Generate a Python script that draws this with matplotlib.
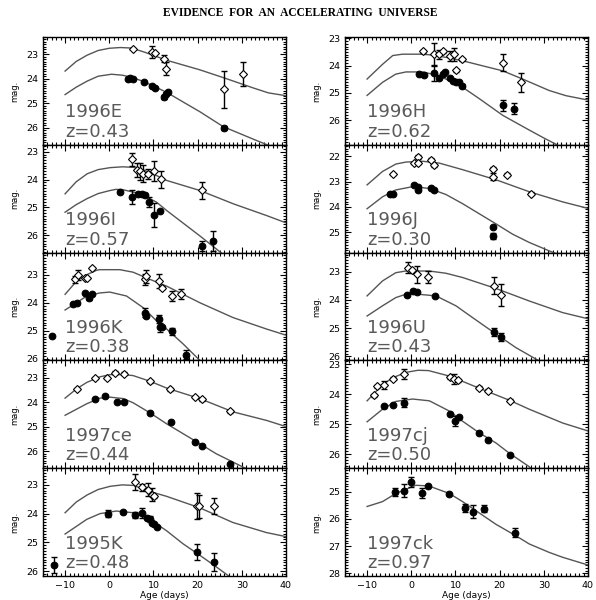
import matplotlib.pyplot as plt
from matplotlib.ticker import MultipleLocator

# light curves, rest age (days) vs magnitude
# points are (age, mag, err); curves are (age, mag) read along the template fits

sn1996E_open = [(5.4, 22.77, 0.04), (9.6, 22.90, 0.24), (10.3, 22.97, 0.0), (12.4, 23.18, 0.14),
                (12.8, 23.59, 0.26), (25.95, 24.44, 0.77), (30.3, 23.80, 0.50)]
sn1996E_fill = [(4.3, 24.00, 0), (4.8, 23.98, 0), (5.4, 24.00, 0), (7.85, 24.15, 0), (9.6, 24.32, 0),
                (10.3, 24.37, 0), (12.4, 24.76, 0.08), (12.8, 24.62, 0), (13.4, 24.55, 0), (25.95, 26.02, 0.08)]
sn1996E_up = [(-10, 23.69), (-7.5, 23.30), (-5, 23.04), (-2.5, 22.85), (0, 22.76), (2.5, 22.73), (5, 22.75),
              (8, 22.92), (13, 23.25), (20.5, 23.64), (26, 23.97), (32.6, 24.38), (36, 24.58), (39.8, 24.69)]
sn1996E_low = [(-10, 24.65), (-7.5, 24.35), (-5, 24.10), (-2.5, 23.90), (0.5, 23.82), (3, 23.86), (5.2, 23.95),
               (7.5, 24.10), (10, 24.30), (13, 24.56), (16.5, 24.93), (20.5, 25.35), (25.8, 25.96), (32.6, 26.47),
               (36, 26.72)]

sn1996H_open = [(2.6, 23.47, 0.05), (5.1, 23.59, 0.42), (6.2, 23.59, 0.18), (7.1, 23.47, 0.05), (8.8, 23.65, 0.18),
                (9.7, 23.59, 0.24), (10.1, 24.17, 0.05), (11.4, 23.77, 0.05), (20.7, 23.89, 0.30), (24.8, 24.61, 0.34)]
sn1996H_fill = [(1.8, 24.31, 0), (2.8, 24.35, 0), (5.1, 24.27, 0.30), (6.2, 24.46, 0), (7.1, 24.29, 0),
                (7.6, 24.25, 0), (8.8, 24.46, 0), (9.4, 24.55, 0), (10.1, 24.61, 0), (10.9, 24.61, 0),
                (11.4, 24.73, 0.05), (20.7, 25.45, 0.20), (23.3, 25.57, 0.20)]
sn1996H_up = [(-10, 24.49), (-6.5, 23.95), (-4.2, 23.63), (-2, 23.58), (2, 23.58), (4.1, 23.60), (8, 23.70),
              (11.6, 23.82), (16, 24.00), (20.7, 24.19), (25.2, 24.49), (31.2, 24.91), (35, 25.10), (40.3, 25.27)]
sn1996H_low = [(-10, 25.09), (-6.5, 24.61), (-3.5, 24.31), (-1.2, 24.23), (2.6, 24.23), (6.3, 24.37),
               (11.6, 24.79), (15.4, 25.21), (20.7, 25.82), (26.7, 26.36), (30, 26.65), (33, 26.90)]

sn1996I_open = [(5.06, 23.27, 0.24), (6.2, 23.66, 0.24), (6.95, 23.70, 0.30), (7.55, 23.79, 0.30),
                (8.8, 23.81, 0.18), (10.1, 23.70, 0.36), (11.6, 23.99, 0.30), (20.9, 24.39, 0.30)]
sn1996I_fill = [(2.4, 24.45, 0), (5.06, 24.63, 0.24), (6.6, 24.53, 0), (7.3, 24.52, 0), (8.1, 24.55, 0),
                (9.1, 24.81, 0.18), (10.1, 25.27, 0.42), (11.4, 25.11, 0), (20.9, 26.38, 0.18), (23.5, 26.22, 0.36)]
sn1996I_up = [(-10, 24.51), (-7.5, 24.08), (-5, 23.79), (-2.5, 23.64), (0.2, 23.57), (3, 23.54), (5.5, 23.56),
              (7.8, 23.66), (10, 23.80), (13, 24.03), (20.5, 24.39), (28.1, 24.87), (35.6, 25.29), (39.8, 25.54)]
sn1996I_low = [(-10, 25.17), (-7.5, 24.90), (-5, 24.68), (-2.5, 24.50), (0.2, 24.39), (1.5, 24.35), (3, 24.36),
               (5.5, 24.45), (7.8, 24.57), (10.7, 24.81), (13, 25.11), (20.5, 26.02), (25.5, 26.65)]

sn1996J_open = [(-4.1, 22.71, 0.05), (0.7, 22.27, 0.05), (1.45, 22.04, 0.08), (1.45, 22.27, 0.05),
                (4.5, 22.13, 0.05), (5.2, 22.36, 0.05), (18.4, 22.49, 0.05), (18.4, 22.80, 0.12),
                (21.65, 22.73, 0.05), (27.1, 23.47, 0.05)]
sn1996J_fill = [(-4.85, 23.49, 0), (-4.1, 23.47, 0), (0.7, 23.13, 0), (1.45, 23.23, 0), (1.6, 23.35, 0),
                (4.5, 23.27, 0), (5.2, 23.33, 0), (18.4, 24.80, 0), (18.4, 25.13, 0.12)]
sn1996J_up = [(-10, 23.13), (-6.5, 22.60), (-3.5, 22.31), (-1.2, 22.23), (2.6, 22.20), (6.3, 22.27),
              (11.6, 22.53), (19.2, 22.93), (26.7, 23.40), (34.25, 23.80), (40.3, 24.07)]
sn1996J_low = [(-10, 24.07), (-6.5, 23.60), (-3.5, 23.33), (0.3, 23.20), (4.1, 23.27), (7.85, 23.51),
               (11.6, 23.87), (15.4, 24.27), (19.2, 24.67), (22.9, 25.07), (26.7, 25.40), (31.2, 25.73), (32.5, 25.82)]

sn1996K_open = [(-7.8, 23.16, 0.14), (-7.0, 22.99, 0.18), (-5.5, 23.11, 0.05), (-5.0, 23.11, 0.05),
                (-4.0, 22.75, 0.05), (8.1, 23.16, 0.18), (8.3, 23.05, 0.24), (11.3, 23.22, 0.24),
                (11.85, 23.46, 0.05), (14.1, 23.75, 0.18), (16.15, 23.69, 0.18)]
sn1996K_fill = [(-13.05, 25.19, 0), (-8.2, 24.05, 0), (-7.4, 23.99, 0), (-5.5, 23.64, 0), (-4.7, 23.81, 0.1),
                (-4.0, 23.69, 0), (8.1, 24.34, 0.15), (8.3, 24.46, 0), (11.3, 24.58, 0.15), (11.4, 24.87, 0.15),
                (12.0, 24.87, 0), (14.1, 25.01, 0.12), (17.3, 25.84, 0.15)]
sn1996K_up = [(-10, 23.69), (-7.4, 23.22), (-5.1, 22.99), (-2.85, 22.83), (-2.1, 22.81), (2.4, 22.81),
              (5.4, 22.90), (8.5, 23.11), (13, 23.40), (16.7, 23.69), (20.5, 23.99), (28, 24.52), (35.6, 24.93),
              (39.8, 25.14)]
sn1996K_low = [(-10, 24.25), (-7.4, 23.99), (-5.1, 23.75), (-2.1, 23.64), (0.1, 23.61), (3.9, 23.75),
               (7.7, 24.17), (10.7, 24.64), (13, 24.93), (16.7, 25.46), (20.5, 26.05)]

sn1996U_open = [(-0.8, 22.86, 0.20), (0.2, 22.95, 0.0), (1.2, 23.09, 0.30), (3.85, 23.19, 0.21),
                (18.8, 23.51, 0.30), (20.3, 23.82, 0.39)]
sn1996U_fill = [(-1.0, 23.84, 0), (0.3, 23.68, 0), (1.2, 23.74, 0), (5.4, 23.88, 0), (18.8, 25.13, 0.14),
                (20.3, 25.30, 0.14)]
sn1996U_up = [(-10, 23.86), (-6.5, 23.33), (-3.5, 23.04), (-1.2, 22.98), (4, 22.98), (7.85, 23.06),
              (11.6, 23.21), (19.2, 23.60), (26.7, 24.04), (34.25, 24.45), (40.3, 24.68)]
sn1996U_low = [(-10, 24.57), (-6.5, 24.21), (-3.5, 23.92), (-1.2, 23.80), (0.1, 23.78), (5.6, 23.86),
               (10.1, 24.21), (13.9, 24.63), (19.2, 25.21), (23.7, 25.69), (28.96, 26.16)]

sn1997ce_open = [(-7.4, 23.46, 0.05), (-3.2, 23.01, 0.05), (-0.6, 23.02, 0.05), (1.3, 22.80, 0.05),
                 (3.4, 22.84, 0.05), (9.2, 23.16, 0.05), (13.65, 23.48, 0.05), (19.4, 23.80, 0.05),
                 (21.0, 23.89, 0.05), (27.3, 24.38, 0.05)]
sn1997ce_fill = [(-3.2, 23.86, 0), (-0.97, 23.76, 0), (1.7, 24.00, 0), (3.4, 24.00, 0), (9.2, 24.44, 0),
                 (13.9, 24.82, 0), (19.4, 25.63, 0), (21.0, 25.80, 0), (27.3, 26.52, 0)]
sn1997ce_up = [(-10, 23.84), (-7.4, 23.46), (-5.1, 23.20), (-2.1, 22.97), (0.2, 22.88), (3.2, 22.88),
               (5.4, 22.92), (9.2, 23.15), (13, 23.43), (20.5, 23.86), (28, 24.40), (35.6, 24.75), (39.8, 24.99)]
sn1997ce_low = [(-10, 24.54), (-5.1, 24.07), (-2.1, 23.84), (0.2, 23.80), (3.2, 23.86), (5.4, 24.03),
                (9.2, 24.44), (13, 24.89), (16.7, 25.29), (20.5, 25.70), (24.2, 26.11), (28, 26.45), (31, 26.72)]

sn1997cj_open = [(-8.4, 24.03, 0.05), (-7.8, 23.74, 0.05), (-6.25, 23.69, 0.12), (-4.2, 23.48, 0.05),
                 (-1.7, 23.32, 0.17), (8.8, 23.43, 0.05), (9.6, 23.48, 0.17), (10.6, 23.54, 0.05),
                 (15.4, 23.79, 0.05), (17.4, 23.88, 0.05), (22.4, 24.22, 0.05)]
sn1997cj_fill = [(-6.25, 24.39, 0), (-4.2, 24.36, 0), (-1.6, 24.28, 0.14), (8.8, 24.67, 0), (9.9, 24.90, 0.17),
                 (10.9, 24.76, 0), (15.4, 25.29, 0), (17.4, 25.52, 0), (22.4, 26.03, 0)]
sn1997cj_up = [(-10, 24.22), (-6.5, 23.68), (-4.2, 23.45), (-1.2, 23.27), (1.5, 23.20), (3.9, 23.21),
               (8.8, 23.40), (15.4, 23.80), (22.2, 24.20), (26.7, 24.50), (34.25, 24.96), (40.3, 25.24)]
sn1997cj_low = [(-10, 24.92), (-6.5, 24.50), (-3.5, 24.24), (0.3, 24.16), (4.1, 24.22), (8.6, 24.56),
                (11.6, 24.90), (15.4, 25.29), (19.2, 25.63), (22.2, 25.97), (26.7, 26.42), (27.1, 26.48)]

sn1995K_open = [(5.8, 22.89, 0.28), (7.3, 23.09, 0.11), (8.8, 23.17, 0.22), (9.6, 23.34, 0.22),
                (10.1, 23.40, 0.05), (19.9, 23.74, 0.45), (20.4, 23.74, 0.40), (23.6, 23.74, 0.28)]
sn1995K_fill = [(-12.4, 25.79, 0.28), (-0.2, 24.00, 0.13), (3.2, 23.94, 0), (5.8, 24.05, 0.11),
                (7.3, 23.99, 0.17), (8.5, 24.14, 0), (9.2, 24.20, 0.10), (9.6, 24.31, 0), (10.1, 24.37, 0),
                (10.7, 24.48, 0), (19.8, 25.34, 0.28), (23.6, 25.68, 0.31)]
sn1995K_up = [(-10, 23.97), (-7.5, 23.60), (-5, 23.35), (-2.5, 23.16), (0.2, 23.05), (3, 23.00), (5.5, 23.02),
              (9.2, 23.23), (13, 23.40), (20.5, 23.80), (28, 24.31), (35.6, 24.66), (40, 24.80)]
sn1995K_low = [(-10, 24.71), (-5.1, 24.20), (-2.1, 24.00), (1.6, 23.91), (5.4, 23.97), (9.2, 24.20),
               (13, 24.60), (16.7, 25.05), (20.5, 25.45), (24.2, 25.85), (27.3, 26.20)]

sn1997ck_fill = [(-3.7, 25.00, 0.14), (-1.7, 24.96, 0.24), (-0.1, 24.64, 0.18), (2.4, 25.04, 0.18),
                 (3.85, 24.79, 0), (8.6, 25.08, 0), (12.2, 25.60, 0.14), (13.9, 25.73, 0.24),
                 (16.5, 25.62, 0.14), (23.5, 26.50, 0.15)]
sn1997ck_low = [(-10, 25.54), (-6.5, 25.36), (-3.5, 25.06), (1.0, 24.76), (3.9, 24.78), (8.6, 25.06),
                (11.6, 25.36), (15.4, 25.78), (19.2, 26.20), (23.7, 26.62), (26.7, 26.92), (31.2, 27.23),
                (34.25, 27.41), (40.3, 27.71)]

# name, redshift, (faint, bright) limits, points and curves, column, row
panels = [
    ("1996E", "0.43", (26.7, 22.3), sn1996E_open, sn1996E_fill, sn1996E_up, sn1996E_low, 0, 0),
    ("1996H", "0.62", (26.9, 22.95), sn1996H_open, sn1996H_fill, sn1996H_up, sn1996H_low, 1, 0),
    ("1996I", "0.57", (26.62, 22.75), sn1996I_open, sn1996I_fill, sn1996I_up, sn1996I_low, 0, 1),
    ("1996J", "0.30", (25.8, 21.55), sn1996J_open, sn1996J_fill, sn1996J_up, sn1996J_low, 1, 1),
    ("1996K", "0.38", (26.05, 22.2), sn1996K_open, sn1996K_fill, sn1996K_up, sn1996K_low, 0, 2),
    ("1996U", "0.43", (26.14, 22.33), sn1996U_open, sn1996U_fill, sn1996U_up, sn1996U_low, 1, 2),
    ("1997ce", "0.44", (26.7, 22.3), sn1997ce_open, sn1997ce_fill, sn1997ce_up, sn1997ce_low, 0, 3),
    ("1997cj", "0.50", (26.47, 22.87), sn1997cj_open, sn1997cj_fill, sn1997cj_up, sn1997cj_low, 1, 3),
    ("1995K", "0.48", (26.17, 22.42), sn1995K_open, sn1995K_fill, sn1995K_up, sn1995K_low, 0, 4),
    ("1997ck", "0.97", (28.1, 24.13), [], sn1997ck_fill, None, sn1997ck_low, 1, 4),
]

W, H = 596, 600
fig = plt.figure(figsize=(W / 100, H / 100), dpi=100)
fig.text(0.503, 0.978, "EVIDENCE  FOR  AN  ACCELERATING  UNIVERSE", ha="center", va="center",
         family="Liberation Serif", fontsize=8.3, fontweight="bold")

left_px = [43, 345]
top_px, row_h = 37, 107.8
ax_w = 243


def draw_points(ax, pts, marker, face, size):
    if not pts:
        return
    t = [p[0] for p in pts]
    m = [p[1] for p in pts]
    bars = [(a, b, c) for a, b, c in pts if c > 0]
    if bars:
        ax.errorbar([b[0] for b in bars], [b[1] for b in bars], yerr=[b[2] for b in bars], fmt="none",
                    ecolor="k", elinewidth=1.0, capsize=2, capthick=1.0, zorder=3)
    ax.plot(t, m, linestyle="none", marker=marker, ms=size, mfc=face, mec="k", mew=0.8, zorder=4)


for name, z, ylim, opn, fil, up, low, col, row in panels:
    x0 = left_px[col] / W
    y0 = 1 - (top_px + (row + 1) * row_h) / H
    ax = fig.add_axes([x0, y0, ax_w / W, row_h / H])
    for curve in (up, low):
        if curve:
            ax.plot([c[0] for c in curve], [c[1] for c in curve], color="#555555", lw=1.0, zorder=2)
    draw_points(ax, opn, "D", "white", 4.0)
    draw_points(ax, fil, "o", "k", 4.8)
    ax.set_xlim(-15, 40)
    ax.set_ylim(*ylim)
    ax.xaxis.set_major_locator(MultipleLocator(10))
    ax.xaxis.set_minor_locator(MultipleLocator(1))
    ax.yaxis.set_major_locator(MultipleLocator(1))
    ax.yaxis.set_minor_locator(MultipleLocator(0.1))
    ax.tick_params(which="both", direction="in", top=True, right=True, labelsize=6.8, width=0.8)
    ax.tick_params(which="major", length=4)
    ax.tick_params(which="minor", length=2)
    for s in ax.spines.values():
        s.set_linewidth(1.0)
    ax.set_ylabel("mag.", fontsize=6, labelpad=5)
    if row == 4:
        ax.set_xlabel("Age (days)", fontsize=6.5, labelpad=1)
    else:
        ax.tick_params(labelbottom=False)
    ax.text(0.09, 0.30, name, transform=ax.transAxes, fontsize=13, color="#5a5a5a", va="center")
    ax.text(0.09, 0.12, "z=" + z, transform=ax.transAxes, fontsize=13, color="#5a5a5a", va="center")

fig.savefig("out.png", dpi=100)
